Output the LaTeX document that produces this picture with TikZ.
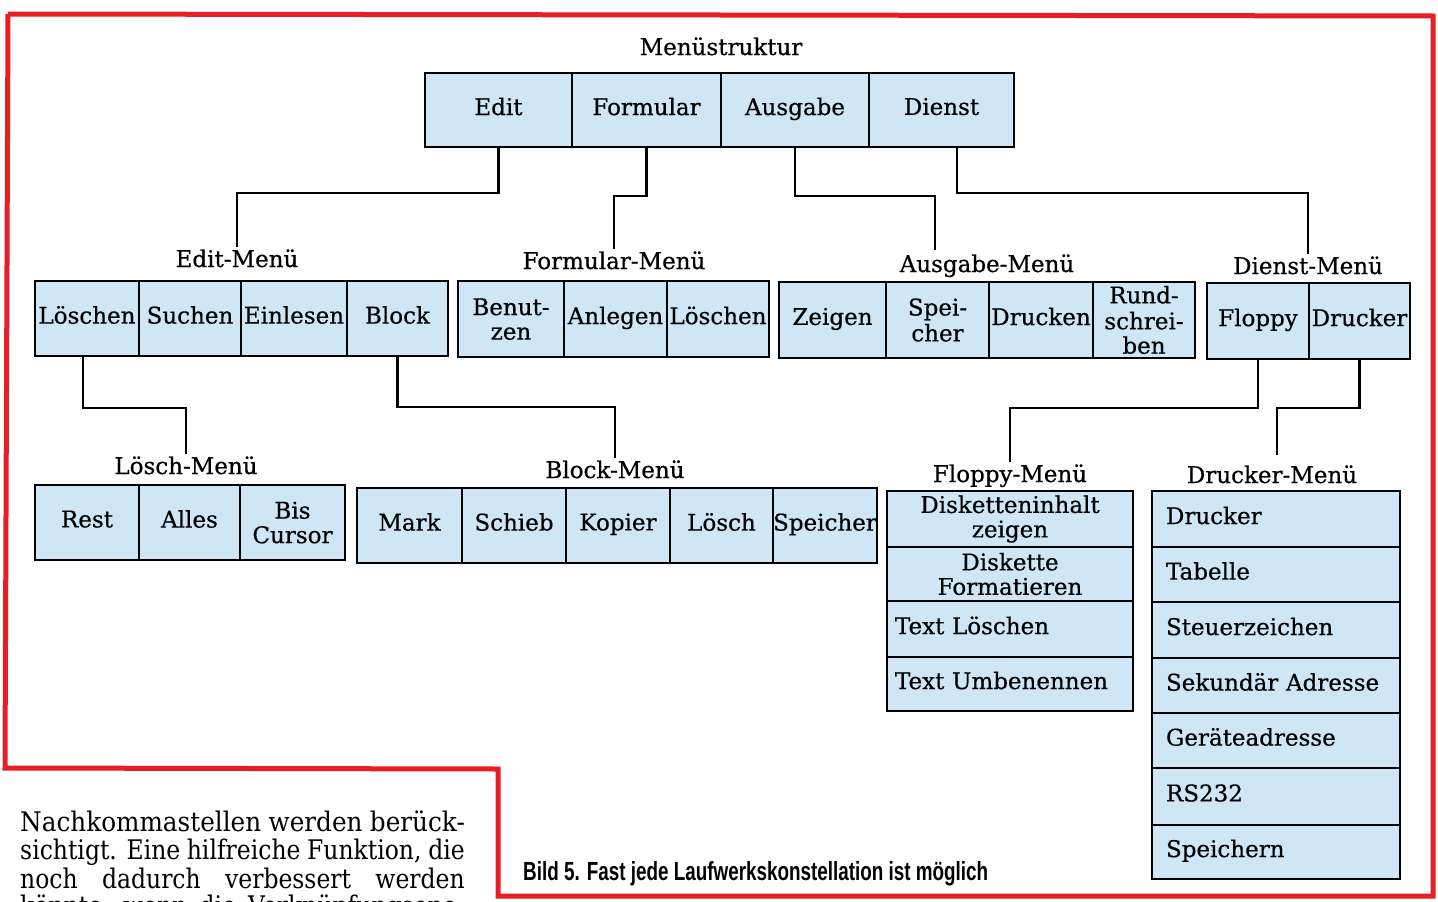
\documentclass[tikz,border=0pt]{standalone}
\usepackage{fontspec}
\usepackage{graphicx}
\setmainfont{DejaVu Serif}
\newfontfamily\diafont{DejaVu Serif}[FakeBold=0.5]
\newfontfamily\capfont{Liberation Sans}
\definecolor{cellblue}{RGB}{206,230,246}
\definecolor{framered}{RGB}{232,30,38}
\tikzset{
  cell/.style={draw=black, fill=cellblue, line width=2.2pt, inner sep=0pt, align=center,
    font=\diafont\fontsize{23}{24.5}\selectfont},
  lefttext/.style={align=left},
  lbl/.style={inner sep=2pt, anchor=base, font=\diafont\fontsize{23}{25}\selectfont},
  conn/.style={draw=black, line width=2.2pt},
  redframe/.style={draw=framered, line width=5pt, line join=miter},
  bodyline/.style={inner sep=0pt, anchor=base west}
}
\newcommand\mcell[7][]{\node[cell,minimum width={#5-#3},minimum height={#6-#4},#1] (#2) at ({(#3+#5)/2},{(#4+#6)/2}) {\strut #7};}
\newcommand\bodytext[3]{\scalebox{#1}[1]{\makebox[#2pt][s]{\fontsize{27}{28}\selectfont #3}}}
\begin{document}
\begin{tikzpicture}[x=1pt,y=-1pt]
\clip (0,0) rectangle (1438,902);
\fill[white] (0,0) rectangle (1438,902);
% red frame
\draw[redframe] (8,14) -- (1433,16) -- (1433,896) -- (498,896) -- (498,769) -- (5,768) -- (8,14);

% top row
\node[lbl] (lTop) at (721,55) {Menüstruktur};
\mcell{edit}{425}{73}{572}{147}{Edit}
\mcell{formular}{572}{73}{721}{147}{Formular}
\mcell{ausgabe}{721}{73}{869}{147}{Ausgabe}
\mcell{dienst}{869}{73}{1014}{147}{Dienst}

% second level labels
\node[lbl] (lEdit) at (237,267) {Edit-Menü};
\node[lbl] (lForm) at (614,269) {Formular-Menü};
\node[lbl] (lAus) at (987,272) {Ausgabe-Menü};
\node[lbl] (lDienst) at (1308,274) {Dienst-Menü};

% Edit-Menue
\mcell{loeschen}{35}{281}{139}{356}{Löschen}
\mcell{suchen}{139}{281}{241}{356}{Suchen}
\mcell{einlesen}{241}{281}{347}{356}{Einlesen}
\mcell{block}{347}{281}{448}{356}{Block}
% Formular-Menue
\mcell{benutzen}{458}{281}{564}{357}{Benut-\\zen}
\mcell{anlegen}{564}{281}{667}{357}{Anlegen}
\mcell{floeschen}{667}{281}{769}{357}{Löschen}
% Ausgabe-Menue
\mcell{zeigen}{779}{282}{886}{358}{Zeigen}
\mcell{aspeicher}{886}{282}{989}{358}{Spei-\\cher}
\mcell{drucken}{989}{282}{1093}{358}{Drucken}
\mcell{rund}{1093}{282}{1195}{358}{Rund-\\schrei-\\ben}
% Dienst-Menue
\mcell{floppy}{1207}{283}{1309}{359}{Floppy}
\mcell{ddrucker}{1309}{283}{1410}{359}{Drucker}

% third level labels
\node[lbl] (lLoesch) at (186,474) {Lösch-Menü};
\node[lbl] (lBlock) at (615,478) {Block-Menü};
\node[lbl] (lFloppy) at (1010,482) {Floppy-Menü};
\node[lbl] (lDrucker) at (1272,483) {Drucker-Menü};

% Loesch-Menue
\mcell{rest}{35}{485}{139}{560}{Rest}
\mcell{alles}{139}{485}{240}{560}{Alles}
\mcell{bis}{240}{485}{345}{560}{Bis\\Cursor}
% Block-Menue
\mcell{mark}{357}{488}{462}{563}{Mark}
\mcell{schieb}{462}{488}{566}{563}{Schieb}
\mcell{kopier}{566}{488}{670}{563}{Kopier}
\mcell{bloesch}{670}{488}{773}{563}{Lösch}
\mcell{bspeicher}{773}{488}{877}{563}{Speicher}
% Floppy-Menue
\mcell{f1}{887}{491}{1133}{547}{Disketteninhalt\\zeigen}
\mcell{f2}{887}{547}{1133}{601}{Diskette\\Formatieren}
\mcell[lefttext,text width=230pt]{f3}{887}{601}{1133}{657}{Text Löschen}
\mcell[lefttext,text width=230pt]{f4}{887}{657}{1133}{711}{Text Umbenennen}
% Drucker-Menue
\mcell[lefttext,text width=220pt]{d1}{1152}{491}{1400}{547}{Drucker}
\mcell[lefttext,text width=220pt]{d2}{1152}{547}{1400}{602}{Tabelle}
\mcell[lefttext,text width=220pt]{d3}{1152}{602}{1400}{658}{Steuerzeichen}
\mcell[lefttext,text width=220pt]{d4}{1152}{658}{1400}{713}{Sekundär Adresse}
\mcell[lefttext,text width=220pt]{d5}{1152}{713}{1400}{768}{Geräteadresse}
\mcell[lefttext,text width=220pt]{d6}{1152}{768}{1400}{825}{RS232}
\mcell[lefttext,text width=220pt]{d7}{1152}{825}{1400}{879}{Speichern}

% connectors
\coordinate (cA) at (935,250);
\coordinate (cD) at (1277,455);
\draw[conn] (edit.south) -- ++(0,45) -| (lEdit.north);
\draw[conn] (formular.south) -- ++(0,48) -| (lForm.north);
\draw[conn] (ausgabe.south) -- ++(0,48) -| (cA);
\draw[conn] ([xshift=15.5pt]dienst.south) -- ++(0,45) -| (lDienst.north);
\draw[conn] ([xshift=-4pt]loeschen.south) -- ++(0,51) -| (lLoesch.north);
\draw[conn] (block.south) -- ++(0,50) -| (lBlock.north);
\draw[conn] (floppy.south) -- ++(0,48) -| (lFloppy.north);
\draw[conn] (ddrucker.south) -- ++(0,48) -| (cD);

% caption
\node[inner sep=0pt, anchor=base west] (cap) at (523,880)
  {\resizebox{465pt}{19pt}{\capfont\bfseries Bild 5. Fast jede Laufwerkskonstellation ist möglich}};

% body text
\node[bodyline] (t1) at (20,831) {\bodytext{0.915}{486}{Nachkommastellen werden berück-}};
\node[bodyline] (t2) at (20,859.5) {\bodytext{0.87}{511}{sichtigt. Eine hilfreiche Funktion, die}};
\node[bodyline] (t3) at (20,888) {\bodytext{0.87}{511}{noch dadurch verbessert werden}};
\node[bodyline] (t4) at (20,915) {\bodytext{0.87}{511}{könnte, wenn die Verknüpfungsope-}};
\end{tikzpicture}
\end{document}
